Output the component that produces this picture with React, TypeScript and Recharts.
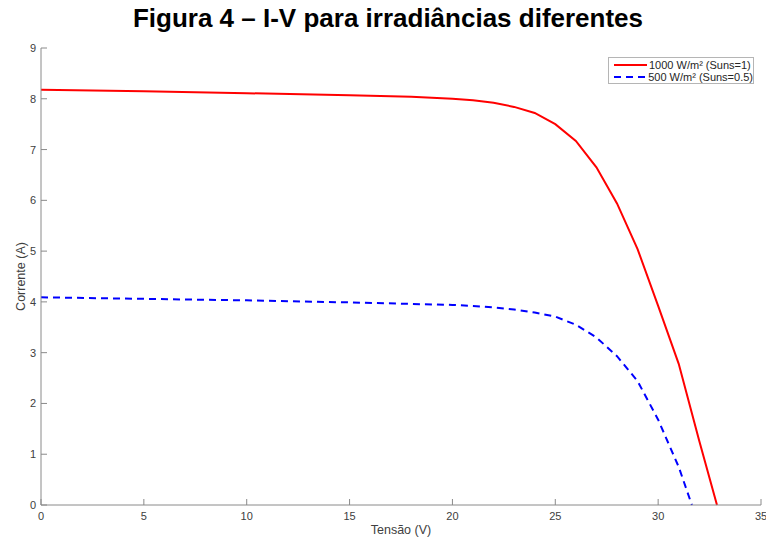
import React from 'react';
import { LineChart, Line, XAxis, YAxis } from 'recharts';

// I-V curves of a PV module at two irradiance levels
const seriesFull = [
  { v: 0, i: 8.18 }, { v: 5, i: 8.15 }, { v: 10, i: 8.11 }, { v: 15, i: 8.07 },
  { v: 18, i: 8.04 }, { v: 20, i: 8.0 }, { v: 21, i: 7.97 }, { v: 22, i: 7.92 },
  { v: 23, i: 7.84 }, { v: 24, i: 7.72 }, { v: 25, i: 7.5 }, { v: 26, i: 7.17 },
  { v: 27, i: 6.65 }, { v: 28, i: 5.94 }, { v: 29, i: 5.04 }, { v: 30, i: 3.92 },
  { v: 31, i: 2.78 }, { v: 32, i: 1.26 }, { v: 32.86, i: 0 },
];

const seriesHalf = [
  { v: 0, i: 4.09 }, { v: 5, i: 4.06 }, { v: 10, i: 4.03 }, { v: 15, i: 3.99 },
  { v: 20, i: 3.94 }, { v: 21, i: 3.92 }, { v: 22, i: 3.89 }, { v: 23, i: 3.85 },
  { v: 24, i: 3.79 }, { v: 25, i: 3.71 }, { v: 26, i: 3.55 }, { v: 27, i: 3.3 },
  { v: 28, i: 2.93 }, { v: 29, i: 2.44 }, { v: 30, i: 1.68 }, { v: 31, i: 0.75 },
  { v: 31.64, i: 0 },
];

const xTicks = [0, 5, 10, 15, 20, 25, 30, 35];
const yTicks = [0, 1, 2, 3, 4, 5, 6, 7, 8, 9];

const legendItems = [
  { label: '1000 W/m² (Suns=1)', color: '#ff0000', dash: undefined as string | undefined },
  { label: '500 W/m² (Suns=0.5)', color: '#0000ff', dash: '7 5' },
];

const FONT = '"Liberation Sans", Arial, Helvetica, sans-serif';
const AXIS = '#8a8a8a';
const TEXT = '#404040';
const TICK = 6;

const BottomTick = (p: any) => (
  <g>
    <line x1={p.x} x2={p.x} y1={p.y} y2={p.y - TICK} stroke={AXIS} />
    <text x={p.x} y={p.y + 15} textAnchor="middle" fontSize={11} fontFamily={FONT} fill={TEXT}>
      {p.payload.value}
    </text>
  </g>
);

const TopTick = (p: any) => (
  <line x1={p.x} x2={p.x} y1={p.y} y2={p.y + TICK} stroke={AXIS} />
);

const LeftTick = (p: any) => (
  <g>
    <line x1={p.x} x2={p.x + TICK} y1={p.y} y2={p.y} stroke={AXIS} />
    <text x={p.x - 5} y={p.y + 4} textAnchor="end" fontSize={11} fontFamily={FONT} fill={TEXT}>
      {p.payload.value}
    </text>
  </g>
);

const RightTick = (p: any) => (
  <line x1={p.x} x2={p.x - TICK} y1={p.y} y2={p.y} stroke={AXIS} />
);

export default function App() {
  return (
    <div style={{ position: 'absolute', left: 0, top: 0, width: 766, height: 538, background: '#fff' }}>
      <div
        style={{
          position: 'absolute', left: 0, top: 3, width: 776, textAlign: 'center',
          fontFamily: FONT, fontWeight: 'bold', fontSize: 26, lineHeight: '30px', color: '#000',
          whiteSpace: 'nowrap',
        }}
      >
        Figura 4 – I-V para irradiâncias diferentes
      </div>
      <LineChart width={766} height={538} margin={{ top: 48, right: 5, bottom: 0, left: 0 }}>
        <XAxis
          xAxisId="b" dataKey="v" type="number" domain={[0, 35]} ticks={xTicks}
          orientation="bottom" height={33} tickSize={0} tickMargin={0}
          axisLine={{ stroke: AXIS }} tickLine={false} tick={<BottomTick />}
          allowDataOverflow interval={0}
          label={{ value: 'Tensão (V)', position: 'center', dy: 8, fontSize: 12.5, fontFamily: FONT, fill: TEXT }}
        />
        <XAxis
          xAxisId="t" dataKey="v" type="number" domain={[0, 35]} ticks={xTicks}
          orientation="top" height={0} tickSize={0} tickMargin={0}
          axisLine={{ stroke: AXIS }} tickLine={false} tick={<TopTick />} interval={0}
        />
        <YAxis
          yAxisId="l" type="number" domain={[0, 9]} ticks={yTicks}
          orientation="left" width={41} tickSize={0} tickMargin={0}
          axisLine={{ stroke: AXIS }} tickLine={false} tick={<LeftTick />} interval={0}
          label={{ value: 'Corrente (A)', position: 'center', angle: -90, dx: 0, fontSize: 12.5, fontFamily: FONT, fill: TEXT }}
        />
        <YAxis
          yAxisId="r" type="number" domain={[0, 9]} ticks={yTicks}
          orientation="right" width={0} tickSize={0} tickMargin={0}
          axisLine={{ stroke: AXIS }} tickLine={false} tick={<RightTick />} interval={0}
        />
        <Line
          xAxisId="b" yAxisId="l" data={seriesFull} dataKey="i" type="linear"
          stroke="#ff0000" strokeWidth={2} dot={false} isAnimationActive={false}
        />
        <Line
          xAxisId="b" yAxisId="l" data={seriesHalf} dataKey="i" type="linear"
          stroke="#0000ff" strokeWidth={2} strokeDasharray="7 5" dot={false} isAnimationActive={false}
        />
      </LineChart>
      <div
        style={{
          position: 'absolute', left: 608, top: 57, width: 146, height: 27,
          border: '1px solid #b5b5b5', background: '#fff', boxSizing: 'border-box',
          fontFamily: FONT, fontSize: 11, color: '#262626', padding: '1px 0 0 4px',
        }}
      >
        {legendItems.map((it) => (
          <div key={it.label} style={{ display: 'flex', alignItems: 'center', height: 12 }}>
            <svg width={34} height={6} style={{ marginRight: 2 }}>
              <line x1={1} x2={34} y1={3} y2={3} stroke={it.color} strokeWidth={2} strokeDasharray={it.dash} />
            </svg>
            <span style={{ whiteSpace: 'nowrap', lineHeight: '12px' }}>{it.label}</span>
          </div>
        ))}
      </div>
    </div>
  );
}
